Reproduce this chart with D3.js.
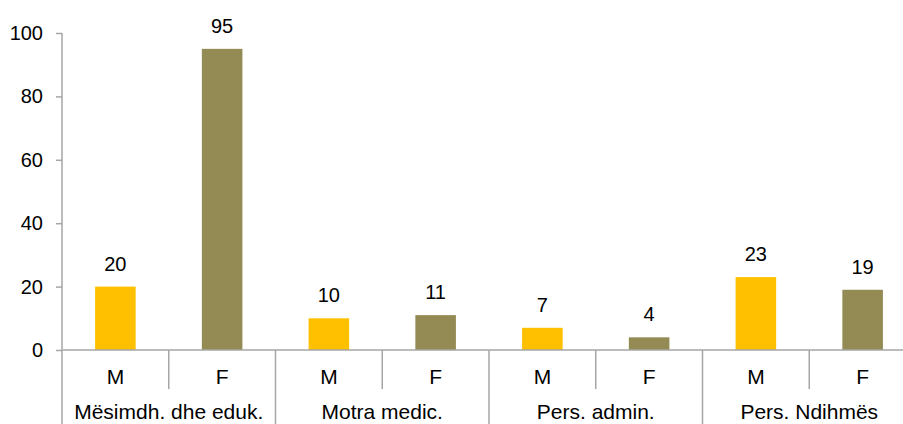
<!DOCTYPE html>
<html><head><meta charset="utf-8">
<script src="https://cdn.jsdelivr.net/npm/d3@7"></script>
<style>body{margin:0;background:#fff}svg{display:block}text{font-family:"Liberation Sans",Arial,sans-serif}</style>
</head><body><svg id="c" width="903" height="424"></svg>
<script>
const groups = ["Mësimdh. dhe eduk.", "Motra medic.", "Pers. admin.", "Pers. Ndihmës"];
const genders = ["M", "F"];
const values = [20, 95, 10, 11, 7, 4, 23, 19];
const yTicks = [0, 20, 40, 60, 80, 100];
const colors = {M: "#FFC000", F: "#948A54"};

const svg = d3.select("#c");
const plotLeft = 62, plotTop = 33, plotBase = 350, slot = 106.75;
const plotRight = plotLeft + slot * groups.length * genders.length;
const axisColor = "#A6A6A6";

const cats = [];
groups.forEach((g, gi) => genders.forEach((s, si) => cats.push({g, s, v: values[gi * genders.length + si], key: g + "|" + s})));

const x = d3.scaleBand().domain(cats.map(d => d.key)).range([plotLeft, plotRight]).paddingInner(0.62).paddingOuter(0.31);
const xg = d3.scaleBand().domain(groups).range([plotLeft, plotRight]);
const y = d3.scaleLinear().domain([0, 100]).range([plotBase, plotTop]);

// bars
svg.append("g").selectAll("rect").data(cats).join("rect")
  .attr("x", d => x(d.key)).attr("width", x.bandwidth())
  .attr("y", d => y(d.v)).attr("height", d => y(0) - y(d.v))
  .attr("fill", d => colors[d.s]);

// value labels
svg.append("g").selectAll("text").data(cats).join("text")
  .attr("x", d => x(d.key) + x.bandwidth() / 2).attr("y", d => y(d.v) - 16)
  .attr("text-anchor", "middle").attr("font-size", 20).attr("fill", "#000")
  .text(d => d.v);

// y axis
const ya = svg.append("g").attr("transform", `translate(${plotLeft},0)`)
  .call(d3.axisLeft(y).tickValues(yTicks).tickSize(6).tickPadding(13));
ya.select(".domain").remove();
ya.selectAll("line").attr("stroke", axisColor).attr("stroke-width", 1.5);
ya.selectAll("text").attr("font-size", 20).attr("fill", "#000").attr("font-family", '"Liberation Sans",Arial,sans-serif');
svg.append("line").attr("x1", plotLeft).attr("x2", plotLeft).attr("y1", plotTop).attr("y2", 424)
  .attr("stroke", axisColor).attr("stroke-width", 1.5);

// x baseline
svg.append("line").attr("x1", plotLeft).attr("x2", plotRight).attr("y1", y(0)).attr("y2", y(0))
  .attr("stroke", axisColor).attr("stroke-width", 1.5);

// separators
const step = x.step();
svg.append("g").selectAll("line").data(cats).join("line")
  .attr("x1", d => x(d.key) - step * 0.31 + step).attr("x2", d => x(d.key) - step * 0.31 + step)
  .attr("y1", y(0)).attr("y2", (d, i) => (i % 2 === 1) ? 424 : 389)
  .attr("stroke", axisColor).attr("stroke-width", 1.5);

// gender labels
svg.append("g").selectAll("text").data(cats).join("text")
  .attr("x", d => x(d.key) + x.bandwidth() / 2).attr("y", 384)
  .attr("text-anchor", "middle").attr("font-size", 21).attr("fill", "#000").text(d => d.s);

// group labels
svg.append("g").selectAll("text").data(groups).join("text")
  .attr("x", d => xg(d) + xg.bandwidth() / 2).attr("y", 419)
  .attr("text-anchor", "middle").attr("font-size", 21).attr("fill", "#000").text(d => d);
</script></body></html>
